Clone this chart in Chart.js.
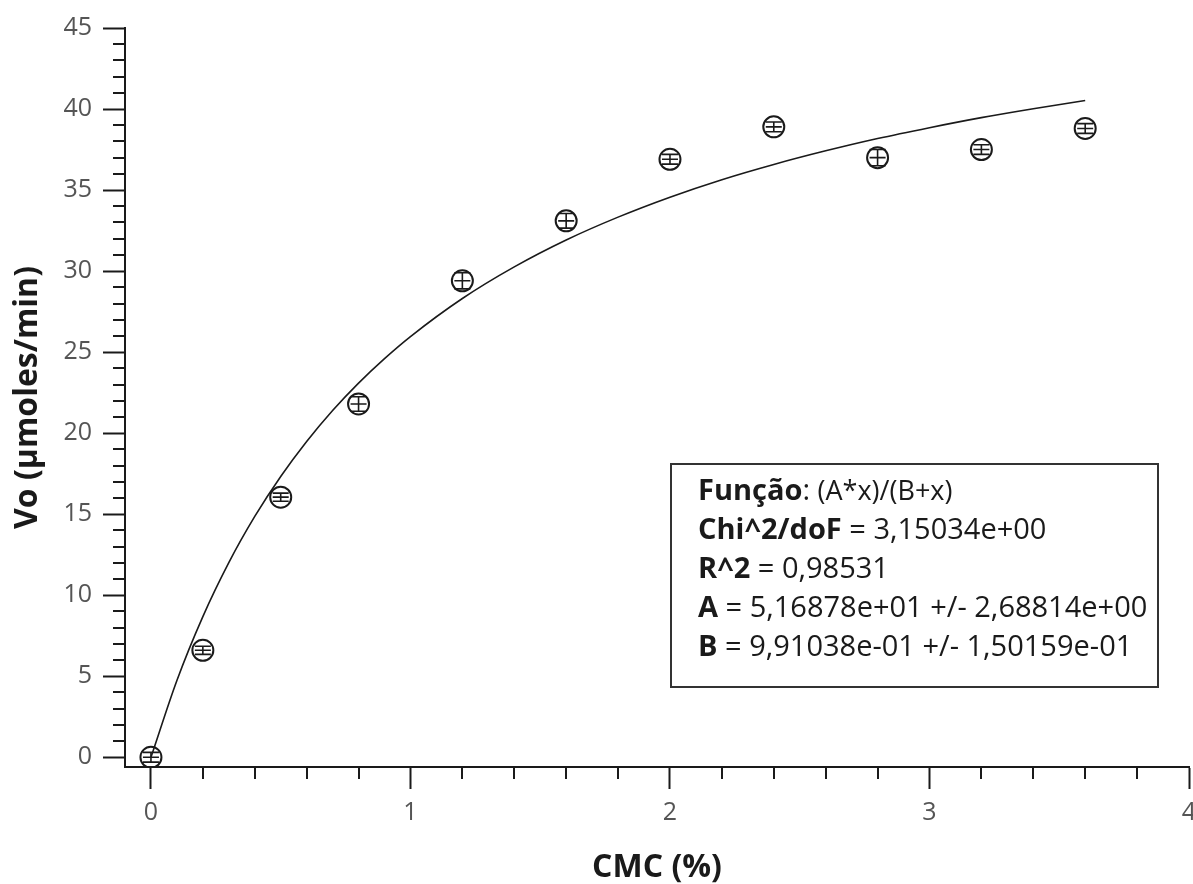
<!DOCTYPE html>
<html>
<head>
<meta charset="utf-8">
<title>Vo x CMC</title>
<script src="https://cdn.jsdelivr.net/npm/chart.js@4.4.0/dist/chart.umd.min.js"></script>
<style>
    body { margin: 0; background: #fff; }
    #chart { display: block; }
</style>
</head>
<body>
<canvas id="chart" width="1193" height="884"></canvas>
<script>
// measured points: CMC (%) against initial velocity
const cmc = [0, 0.2, 0.5, 0.8, 1.2, 1.6, 2.0, 2.4, 2.8, 3.2, 3.6];
const vo = [0, 6.6, 16.05, 21.8, 29.4, 33.1, 36.9, 38.9, 37.0, 37.5, 38.8];
const voErr = [0.3, 0.25, 0.25, 0.45, 0.5, 0.45, 0.3, 0.3, 0.5, 0.3, 0.3];

// fitted curve (A*x)/(B+x), sampled along x
const fitX = [0, 0.1, 0.2, 0.3, 0.4, 0.5, 0.6, 0.7, 0.8, 0.9, 1.0, 1.2, 1.4, 1.6, 1.8,
    2.0, 2.2, 2.4, 2.6, 2.8, 3.0, 3.2, 3.4, 3.6];
const fitY = [0, 4.74, 8.68, 12.01, 14.86, 17.33, 19.49, 21.40, 23.09, 24.60, 25.96, 28.31,
    30.26, 31.92, 33.33, 34.56, 35.64, 36.58, 37.42, 38.18, 38.85, 39.47, 40.02, 40.53];

// text of the fit results box: [text, bold, size]
const fitLines = [
    [["Função", true], [": ", false], ["(A*x)/(B+x)", false, 27]],
    [["Chi^2/doF", true], [" = 3,15034e+00", false]],
    [["R^2", true], [" = 0,98531", false]],
    [["A", true], [" = 5,16878e+01 +/- 2,68814e+00", false]],
    [["B", true], [" = 9,91038e-01 +/- 1,50159e-01", false]]
];

const FONT = "'Open Sans', 'Noto Sans', sans-serif";
const INK = '#1a1a1a';

// minor ticks are shorter than the major ones chart.js draws itself
const minorTicks = {
    id: 'minorTicks',
    afterDraw(chart) {
        const ctx = chart.ctx;
        const xs = chart.scales.x, ys = chart.scales.y;
        const area = chart.chartArea;
        ctx.save();
        ctx.strokeStyle = INK;
        ctx.lineWidth = 2;
        ctx.beginPath();
        for (let v = 0; v <= 45; v++) {
            if (v % 5 === 0) continue;
            const py = Math.round(ys.getPixelForValue(v));
            ctx.moveTo(area.left - 12, py);
            ctx.lineTo(area.left, py);
        }
        for (let i = 1; i < 20; i++) {
            if (i % 5 === 0) continue;
            const px = Math.round(xs.getPixelForValue(i * 0.2));
            ctx.moveTo(px, area.bottom);
            ctx.lineTo(px, area.bottom + 12);
        }
        ctx.stroke();
        ctx.restore();
    }
};

// vertical error bars with caps on the measured points
const errorBars = {
    id: 'errorBars',
    afterDatasetsDraw(chart) {
        const ctx = chart.ctx;
        const ys = chart.scales.y;
        const meta = chart.getDatasetMeta(1);
        ctx.save();
        ctx.strokeStyle = INK;
        ctx.lineWidth = 1.6;
        meta.data.forEach(function(pt, i) {
            const top = ys.getPixelForValue(vo[i] + voErr[i]);
            const bot = ys.getPixelForValue(vo[i] - voErr[i]);
            ctx.beginPath();
            ctx.moveTo(pt.x, top);
            ctx.lineTo(pt.x, bot);
            ctx.moveTo(pt.x - 8, top);
            ctx.lineTo(pt.x + 8, top);
            ctx.moveTo(pt.x - 8, bot);
            ctx.lineTo(pt.x + 8, bot);
            ctx.moveTo(pt.x - 8, pt.y);
            ctx.lineTo(pt.x + 8, pt.y);
            ctx.stroke();
        });
        ctx.restore();
    }
};

// boxed summary of the fit
const fitBox = {
    id: 'fitBox',
    afterDraw(chart) {
        const ctx = chart.ctx;
        ctx.save();
        ctx.strokeStyle = '#333';
        ctx.lineWidth = 2;
        ctx.strokeRect(671, 464, 487, 223);
        ctx.fillStyle = INK;
        ctx.textBaseline = 'alphabetic';
        let y = 500;
        fitLines.forEach(function(line) {
            let x = 698;
            line.forEach(function(part) {
                const size = part[2] || 29;
                ctx.font = (part[1] ? 'bold ' : '') + size + 'px ' + FONT;
                ctx.fillText(part[0], x, y);
                x += ctx.measureText(part[0]).width;
            });
            y += 39;
        });
        ctx.restore();
    }
};

const curvePoints = fitX.map(function(x, i) { return {x: x, y: fitY[i]}; });
const measured = cmc.map(function(x, i) { return {x: x, y: vo[i]}; });

new Chart(document.getElementById('chart'), {
    type: 'scatter',
    data: {
        datasets: [{
            type: 'line',
            data: curvePoints,
            borderColor: INK,
            borderWidth: 1.6,
            pointRadius: 0,
            cubicInterpolationMode: 'monotone',
            fill: false,
            order: 2
        }, {
            data: measured,
            pointRadius: 10.5,
            pointBorderWidth: 2,
            pointBorderColor: INK,
            pointBackgroundColor: 'rgba(255,255,255,0)',
            order: 1
        }]
    },
    options: {
        responsive: false,
        animation: false,
        layout: { autoPadding: false, padding: { top: 28, right: 4, left: 0, bottom: 0 } },
        plugins: { legend: { display: false }, tooltip: { enabled: false } },
        scales: {
            x: {
                type: 'linear',
                min: -0.1,
                max: 4,
                afterFit: function(scale) {
                    scale.height = 117;
                    scale.paddingRight = 0;
                    scale.paddingLeft = 0;
                },
                ticks: { stepSize: 1, includeBounds: false, maxRotation: 0, padding: 9,
                    color: '#555', font: { family: FONT, size: 25 } },
                grid: { drawOnChartArea: false, tickLength: 22, tickWidth: 2, tickColor: INK },
                border: { color: INK, width: 2 },
                title: { display: true, text: 'CMC (%)', color: INK, padding: { top: 0, bottom: -3 },
                    font: { family: FONT, size: 32, weight: 'bold' } }
            },
            y: {
                min: -0.6,
                max: 45,
                afterFit: function(scale) { scale.width = 125; },
                ticks: { stepSize: 5, includeBounds: false, padding: 11,
                    color: '#555', font: { family: FONT, size: 25 } },
                grid: { drawOnChartArea: false, tickLength: 22, tickWidth: 2, tickColor: INK },
                border: { color: INK, width: 2 },
                title: { display: true, text: 'Vo (µmoles/min)', color: INK, padding: { top: 9, bottom: 0 },
                    font: { family: FONT, size: 32, weight: 'bold' } }
            }
        }
    },
    plugins: [minorTicks, errorBars, fitBox]
});
</script>
</body>
</html>
